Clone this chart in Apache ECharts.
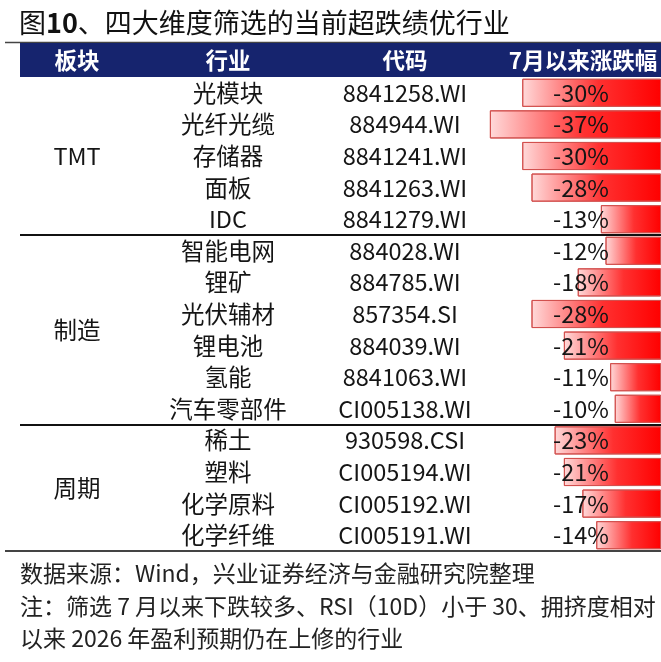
<!DOCTYPE html>
<html>
<head>
<meta charset="utf-8">
<script src="https://cdn.jsdelivr.net/npm/echarts@6/dist/echarts.min.js"></script>
<style>
  html, body { margin: 0; padding: 0; background: #fff; }
  #main { width: 661px; height: 662px; }
</style>
</head>
<body>
<div id="main"></div>
<script>
const headers = ["板块", "行业", "代码", "7月以来涨跌幅"];
const sectors = ["TMT", "制造", "周期"];
const sectorSizes = [5, 6, 4];
const industries = ["光模块", "光纤光缆", "存储器", "面板", "IDC",
  "智能电网", "锂矿", "光伏辅材", "锂电池", "氢能", "汽车零部件",
  "稀土", "塑料", "化学原料", "化学纤维"];
const codes = ["8841258.WI", "884944.WI", "8841241.WI", "8841263.WI", "8841279.WI",
  "884028.WI", "884785.WI", "857354.SI", "884039.WI", "8841063.WI", "CI005138.WI",
  "930598.CSI", "CI005194.WI", "CI005192.WI", "CI005191.WI"];
const changes = [-30, -37, -30, -28, -13, -12, -18, -28, -21, -11, -10, -23, -21, -17, -14];
const notes = [
  "数据来源：Wind，兴业证券经济与金融研究院整理",
  "注：筛选 7 月以来下跌较多、RSI（10D）小于 30、拥挤度相对",
  "以来 2026 年盈利预期仍在上修的行业"
];

const FONT = "'Noto Sans CJK SC', 'Noto Sans', sans-serif";
const NAVY = "#16246e";
const GRID_LEFT = 476;

const chart = echarts.init(document.getElementById("main"));

// text column built as an extra category axis, label anchored at x
function textAxis(data, x, align, z) {
  return {
    type: "category",
    data: data,
    inverse: true,
    position: "left",
    offset: GRID_LEFT - x,
    z: z || 0,
    axisLine: { show: false },
    axisTick: { show: false },
    axisLabel: {
      interval: 0,
      margin: 0,
      align: align,
      color: "#151515",
      fontSize: 23.5,
      fontFamily: FONT
    }
  };
}

const option = {
  animation: false,
  backgroundColor: "#fff",
  title: {
    text: "{a|图}{b|10}{a|、四大维度筛选的当前超跌绩优行业}",
    left: 14,
    top: 4,
    textStyle: {
      fontWeight: "normal",
      rich: {
        a: { fontSize: 27, color: "#111", fontWeight: "normal", fontFamily: FONT },
        b: { fontSize: 27, color: "#111", fontWeight: "bold", fontFamily: FONT }
      }
    }
  },
  grid: { left: GRID_LEFT, right: 0, top: 77, bottom: 111 },
  xAxis: { type: "value", min: -40, max: 0, show: false },
  yAxis: [
    textAxis(industries, 228, "center"),
    textAxis(codes, 405, "center"),
    textAxis(changes.map(v => v + "%"), 609, "right", 10)
  ],
  series: [{
    type: "bar",
    yAxisIndex: 0,
    data: changes,
    barCategoryGap: "11%",
    itemStyle: {
      color: new echarts.graphic.LinearGradient(0, 0, 1, 0, [
        { offset: 0, color: "#ffdada" },
        { offset: 0.55, color: "#ff3030" },
        { offset: 1, color: "#ff0000" }
      ]),
      borderColor: "#d2504e",
      borderWidth: 1
    }
  }]
};

chart.setOption(option);

// rows positions from the axis
const rowY = i => chart.convertToPixel({ yAxisIndex: 0 }, industries[i]);
const pitch = rowY(1) - rowY(0);

const graphics = [];
// header band
graphics.push({
  type: "line", shape: { x1: 5, y1: 42.5, x2: 661, y2: 42.5 },
  style: { stroke: "#444", lineWidth: 1.5 }
});
graphics.push({
  type: "rect", shape: { x: 20, y: 43, width: 641, height: 34 },
  style: { fill: NAVY }
});
const headerX = [77, 228, 405, 583];
headers.forEach((h, i) => {
  graphics.push({
    type: "text", x: headerX[i], y: 60,
    style: {
      text: h, fill: "#fff", fontSize: 22.5, fontWeight: "bold", fontFamily: FONT,
      align: "center", verticalAlign: "middle"
    },
    z: 10
  });
});

// sector labels and separators
let start = 0;
sectors.forEach((s, g) => {
  const end = start + sectorSizes[g] - 1;
  graphics.push({
    type: "text", x: 77, y: (rowY(start) + rowY(end)) / 2,
    style: {
      text: s, fill: "#151515", fontSize: 23.5, fontFamily: FONT,
      align: "center", verticalAlign: "middle"
    }
  });
  const yb = Math.round(rowY(end) + pitch / 2);
  const last = g === sectors.length - 1;
  graphics.push({
    type: "line",
    shape: { x1: last ? 5 : 20, y1: yb, x2: 661, y2: yb },
    style: { stroke: last ? "#444" : "#111", lineWidth: 2 },
    z: 20
  });
  start = end + 1;
});

// footnotes
const noteY = [573, 606, 638];
notes.forEach((t, i) => {
  graphics.push({
    type: "text", x: 20, y: noteY[i],
    style: {
      text: t, fill: "#222", fontSize: 23, fontFamily: FONT,
      align: "left", verticalAlign: "middle"
    }
  });
});

chart.setOption({ graphic: graphics });
</script>
</body>
</html>
